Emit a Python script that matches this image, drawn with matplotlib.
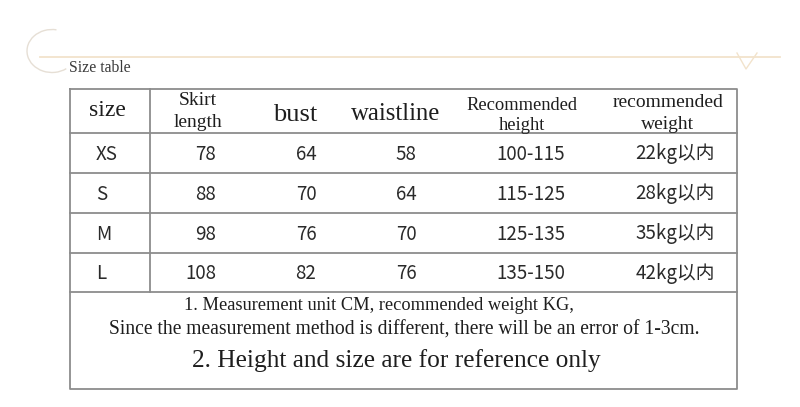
import matplotlib
matplotlib.use("Agg")
import matplotlib.pyplot as plt
from matplotlib.patches import Arc

# size chart data
headers = ["size", "Skirt\nlength", "bust", "waistline",
           "Recommended\nheight", "recommended\nweight"]
sizes = ["XS", "S", "M", "L"]
skirt_length = [78, 88, 98, 108]
bust = [64, 70, 76, 82]
waistline = [58, 64, 70, 76]
rec_height = ["100-115", "115-125", "125-135", "135-150"]
rec_weight = ["22kg以内", "28kg以内", "35kg以内", "42kg以内"]
notes = ["1. Measurement unit CM, recommended weight KG,",
         "Since the measurement method is different, there will be an error of 1-3cm.",
         "2. Height and size are for reference only"]

W, H = 800, 407
fig = plt.figure(figsize=(W / 100, H / 100), dpi=100)
ax = fig.add_axes([0, 0, 1, 1])
ax.set_xlim(0, W)
ax.set_ylim(H, 0)
ax.axis("off")

serif = "Liberation Serif"
cjk = ["Noto Sans CJK SC", "DejaVu Sans"]
ink = "#1e1e1e"
grid = "#8c8c8c"

# top decoration
ax.plot([40, 780], [57, 57], color="#f2e3cc", lw=1.3)
ax.plot([737, 746, 757], [53, 69, 53], color="#f2e3cc", lw=1.0)
ax.add_patch(Arc((52, 51), 50, 43, theta1=51, theta2=282, color="#e6dfd5", lw=1.0))
ax.text(69, 72, "Size table", family=serif, fontsize=11.3, color="#3a3a3a", va="baseline")

# table frame
left, right = 70, 737
row_edges = [89, 133, 173, 213, 253, 292, 389]
ax.plot([left, right, right, left, left],
        [row_edges[0], row_edges[0], row_edges[-1], row_edges[-1], row_edges[0]],
        color=grid, lw=1.3)
for y in row_edges[1:-1]:
    ax.plot([left, right], [y, y], color=grid, lw=1.3)
ax.plot([150, 150], [row_edges[0], row_edges[5]], color=grid, lw=1.3)

# header row: (x, baselines, fontsize)
head_pos = [(107, [116], 17), (198, [105, 127], 14), (295, [121], 19),
            (396, [120], 17.8), (522, [110, 130], 13.3), (668, [107, 129], 14)]
for label, (x, bases, fs) in zip(headers, head_pos):
    for line, yb in zip(label.split("\n"), bases):
        ax.text(x, yb, line, family=serif, fontsize=fs, color=ink,
                ha="center", va="baseline")

# body rows
for i in range(len(sizes)):
    yc = (row_edges[i + 1] + row_edges[i + 2]) / 2 + 1
    kw = dict(family=cjk, fontsize=13.5, color="#2a2a2a", va="center")
    ax.text(96, yc, sizes[i], ha="left", **kw)
    ax.text(216, yc, str(skirt_length[i]), ha="right", **kw)
    ax.text(306, yc, str(bust[i]), ha="center", **kw)
    ax.text(406, yc, str(waistline[i]), ha="center", **kw)
    ax.text(531, yc, rec_height[i], ha="center", **kw)
    ax.text(675, yc, rec_weight[i], ha="center", **kw)

# notes
ax.text(379, 305, notes[0], family=serif, fontsize=13.2, color=ink, ha="center", va="center")
ax.text(404, 330, notes[1], family=serif, fontsize=14.1, color=ink, ha="center", va="center")
ax.text(396, 361, notes[2], family=serif, fontsize=18.3, color=ink, ha="center", va="center")

fig.savefig("out.png", dpi=100, facecolor="white")
